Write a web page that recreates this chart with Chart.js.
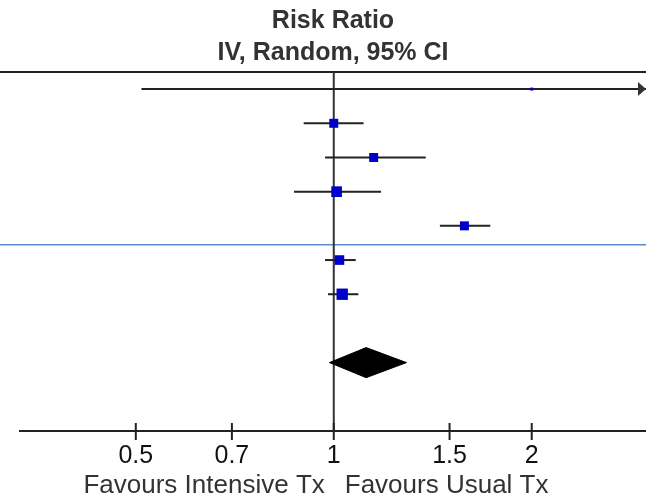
<!DOCTYPE html>
<html>
<head>
<meta charset="utf-8">
<script src="https://cdn.jsdelivr.net/npm/chart.js@4.4.1/dist/chart.umd.min.js"></script>
<style>
  html, body { margin: 0; padding: 0; background: #fff; }
</style>
</head>
<body>
<canvas id="forest" width="646" height="497"></canvas>
<script>
// study rows, top to bottom (the study names are outside the cropped picture)
const riskRatio = [2.00, 1.00, 1.15, 1.01, 1.58, 1.02, 1.03];
const ciLower   = [0.51, 0.90, 0.97, 0.87, 1.45, 0.97, 0.98];
const ciUpper   = [7.85, 1.11, 1.38, 1.18, 1.73, 1.08, 1.09];
const weights   = [1.5, 13.5, 13.5, 19.0, 13.5, 15.5, 21.5];
// pooled estimate: lower, point, upper
const pooled = [0.985, 1.12, 1.29];
const tickValues = [0.5, 0.7, 1, 1.5, 2];
const tickLabels = ['0.5', '0.7', '1', '1.5', '2'];
const titleLines = ['Risk Ratio', 'IV, Random, 95% CI'];
const favours = ['Favours Intensive Tx', 'Favours Usual Tx'];
const axisRange = [1 / 3, 2.984];
const pooledRow = 8;
const lastRow = 10;
const subgroupBreak = 4.55;

const FONT = '"Liberation Sans", Arial, sans-serif';

function line(ctx, x1, y1, x2, y2) {
    ctx.beginPath();
    ctx.moveTo(x1, y1);
    ctx.lineTo(x2, y2);
    ctx.stroke();
}

const ciSets = riskRatio.map((rr, i) => ({
    data: [{x: ciLower[i], y: i}, {x: ciUpper[i], y: i}],
    borderColor: '#222',
    borderWidth: 2,
    pointRadius: 0,
    fill: false,
    order: 2
}));

const pointSet = {
    data: riskRatio.map((rr, i) => ({x: rr, y: i})),
    showLine: false,
    pointStyle: 'rect',
    pointRadius: weights.map(w => 1.73 * Math.sqrt(w)),
    backgroundColor: '#0000c8',
    borderColor: '#0000c8',
    pointBorderWidth: 0,
    order: 0
};

const diamondSet = {
    data: [
        {x: pooled[0], y: pooledRow},
        {x: pooled[1], y: pooledRow - 0.44},
        {x: pooled[2], y: pooledRow},
        {x: pooled[1], y: pooledRow + 0.44},
        {x: pooled[0], y: pooledRow}
    ],
    borderColor: '#000',
    backgroundColor: '#000',
    borderWidth: 1,
    pointRadius: 0,
    tension: 0,
    fill: 'shape',
    order: 1
};

// rules, line of no effect, crossing ticks, arrow and the favours captions
const forestFrame = {
    id: 'forestFrame',
    beforeDatasetsDraw(chart) {
        const {ctx, chartArea: a, scales: {x, y}} = chart;
        ctx.save();
        ctx.strokeStyle = '#222';
        ctx.lineWidth = 2;
        line(ctx, 0, a.top, chart.width, a.top);
        ctx.strokeStyle = '#5b8bc8';
        ctx.lineWidth = 1.5;
        const sy = y.getPixelForValue(subgroupBreak);
        line(ctx, 0, sy, chart.width, sy);
        const x1 = x.getPixelForValue(1);
        ctx.strokeStyle = '#333';
        ctx.lineWidth = 2;
        line(ctx, x1, a.top, x1, a.bottom);
        ctx.restore();
    },
    afterDraw(chart) {
        const {ctx, chartArea: a, scales: {x, y}} = chart;
        ctx.save();
        ctx.strokeStyle = '#222';
        ctx.lineWidth = 2;
        x.ticks.forEach(t => {
            const px = x.getPixelForValue(t.value);
            line(ctx, px, a.bottom - 8, px, a.bottom + 9);
        });
        // arrow where a CI runs past the axis
        ctx.fillStyle = '#333';
        ciUpper.forEach((hi, i) => {
            if (hi <= x.max) return;
            const py = y.getPixelForValue(i);
            ctx.beginPath();
            ctx.moveTo(a.right, py);
            ctx.lineTo(a.right - 8, py - 7);
            ctx.lineTo(a.right - 8, py + 7);
            ctx.closePath();
            ctx.fill();
        });
        const x1 = x.getPixelForValue(1);
        ctx.font = '26px ' + FONT;
        ctx.fillStyle = '#333';
        ctx.textBaseline = 'alphabetic';
        ctx.textAlign = 'right';
        ctx.fillText(favours[0], x1 - 9, 493);
        ctx.textAlign = 'left';
        ctx.fillText(favours[1], x1 + 11, 493);
        ctx.restore();
    }
};

new Chart(document.getElementById('forest'), {
    type: 'line',
    data: {datasets: [pointSet, diamondSet, ...ciSets]},
    options: {
        responsive: false,
        animation: false,
        devicePixelRatio: 1,
        layout: {autoPadding: false, padding: {left: 20, right: 0, top: 0, bottom: 0}},
        scales: {
            x: {
                type: 'logarithmic',
                position: 'bottom',
                min: axisRange[0],
                max: axisRange[1],
                afterBuildTicks: s => {
                    s.ticks = tickValues.map(v => ({value: v}));
                    s.min = axisRange[0];
                    s.max = axisRange[1];
                },
                afterFit: s => { s.height = 66; },
                grid: {display: false, drawTicks: false},
                border: {display: true, color: '#222', width: 2},
                ticks: {
                    callback: v => tickLabels[tickValues.indexOf(v)],
                    font: {family: FONT, size: 25},
                    color: '#111',
                    padding: 10,
                    maxRotation: 0,
                    autoSkip: false
                }
            },
            y: {
                type: 'linear',
                reverse: true,
                min: -0.5,
                max: lastRow,
                display: false
            }
        },
        plugins: {
            legend: {display: false},
            tooltip: {enabled: false},
            title: {
                display: true,
                text: titleLines,
                color: '#333',
                font: {family: FONT, size: 25, weight: 'bold', lineHeight: 1.272},
                padding: {top: 5.3, bottom: 3.1}
            }
        }
    },
    plugins: [forestFrame]
});
</script>
</body>
</html>
